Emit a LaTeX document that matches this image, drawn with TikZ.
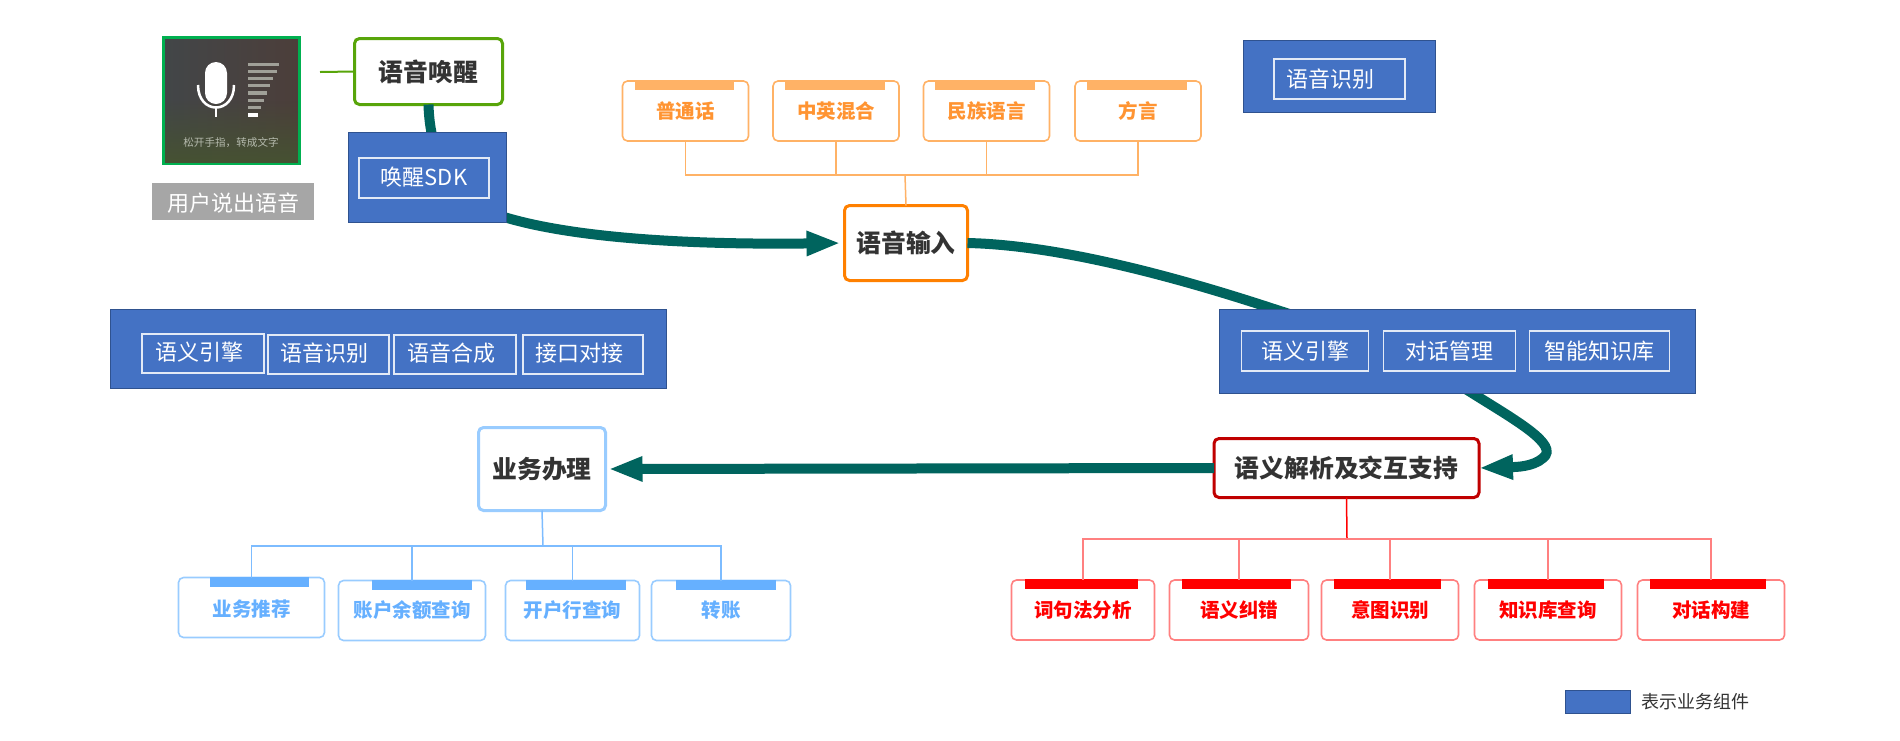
\documentclass[tikz,border=0pt]{standalone}
\usepackage{fontspec}
\setmainfont{Noto Sans CJK SC}
\usetikzlibrary{calc,arrows.meta,fadings}
\definecolor{FlowTeal}{RGB}{0,100,94}
\definecolor{CompBlue}{RGB}{68,114,196}
\definecolor{CompEdge}{RGB}{47,82,143}
\definecolor{WakeGreen}{RGB}{88,165,10}
\definecolor{MicGreen}{RGB}{0,176,80}
\definecolor{MicLeft}{RGB}{66,70,72}
\definecolor{MicRight}{RGB}{76,62,58}
\definecolor{MicBottom}{RGB}{70,82,50}
\definecolor{MicBar}{RGB}{160,160,152}
\definecolor{InputOrange}{RGB}{255,128,0}
\definecolor{LeafOrange}{RGB}{255,178,102}
\definecolor{TextOrange}{RGB}{255,148,50}
\definecolor{ServiceBlue}{RGB}{153,204,255}
\definecolor{LeafBlue}{RGB}{102,176,255}
\definecolor{DarkRed}{RGB}{192,0,0}
\definecolor{LeafRed}{RGB}{255,128,128}
\newcommand{\shifted}[2]{\raisebox{#1}[\height][\depth]{#2}}

\begin{document}
\begin{tikzpicture}[x=1pt,y=-1pt]
				\tikzstyle{main} = [rectangle, rounded corners=5pt, inner sep=0pt, outer sep=0pt, line width=3pt, fill=white, text=black!80, font=\fontsize{24.8}{28}\selectfont\bfseries]
				\tikzstyle{leaf} = [rectangle, rounded corners=5pt, inner sep=0pt, outer sep=0pt, line width=1.6pt, fill=white, minimum height=60pt, font=\fontsize{19.5}{24}\selectfont\bfseries]
				\tikzstyle{bar} = [rectangle, inner sep=0pt, outer sep=0pt, minimum height=10pt]
				\tikzstyle{component} = [rectangle, inner sep=0pt, outer sep=0pt, draw=CompEdge, fill=CompBlue]
				\tikzstyle{module} = [rectangle, inner sep=0pt, outer sep=0pt, draw=white!85!CompBlue, line width=1.3pt, minimum height=39pt, text=white, font=\fontsize{22}{26}\selectfont]
				\tikzstyle{arrow} = [line width=10pt, draw=FlowTeal, -{Triangle[length=34pt,width=23pt]}]
				\tikzstyle{orangeline} = [line width=1.5pt, draw=LeafOrange]
				\tikzstyle{blueline} = [line width=1.5pt, draw=LeafBlue!85!white]
				\tikzstyle{redline} = [line width=1.5pt, draw=LeafRed]

				\useasboundingbox [fill=white] (0,0) rectangle (1900,740);

				\node (mic) [rectangle, inner sep=0pt, outer sep=0pt, draw=MicGreen, line width=3pt, left color=MicLeft, right color=MicRight, minimum width=136pt, minimum height=126pt] at (231.5,100.5) {};
				\fill [MicBottom, path fading=north] (165,100) rectangle (298,163);
				\fill [white] (205,73) arc (-180:0:11) -- (227,93) arc (0:180:11) -- cycle;
				\draw [white, line width=2.5pt] (198,85) .. controls (198,115) and (234,115) .. (234,85);
				\draw [white, line width=2.5pt] (216,107) -- (216,117);
				\foreach \barend [count=\row] in {279,277,273,270,267,264,261} {
					\fill [MicBar] (248,{62.5+(\row-1)*7.2}) rectangle (\barend,{65.8+(\row-1)*7.2});
				}
				\fill [white] (248,113) rectangle (258,117);
				\node (miccaption) [inner sep=0pt, text=white!60!MicBottom, font=\fontsize{10.6}{12}\selectfont] at (231,143) {松开手指，转成文字};
				\node (speak) [rectangle, inner sep=0pt, outer sep=0pt, fill=black!35, text=white, minimum width=162pt, minimum height=37pt, font=\fontsize{22}{26}\selectfont] at (233,201.5) {\shifted{-2pt}{用户说出语音}};

				\node (wake) [main, draw=WakeGreen, minimum width=148pt, minimum height=66pt] at (428.5,71.5) {语音唤醒};
				\node (input) [main, draw=InputOrange, minimum width=123pt, minimum height=75pt] at (906,243) {语音输入};
				\node (semantic) [main, draw=DarkRed, minimum width=265pt, minimum height=59pt] at (1346.5,468) {语义解析及交互支持};
				\node (service) [main, draw=ServiceBlue, minimum width=127pt, minimum height=83pt] at (542,469) {业务办理};

				\node (putonghua) [leaf, draw=LeafOrange, text=TextOrange, minimum width=126pt] at (685.5,111) {普通话};
				\node (mixed) [leaf, draw=LeafOrange, text=TextOrange, minimum width=126pt] at (836,111) {中英混合};
				\node (minority) [leaf, draw=LeafOrange, text=TextOrange, minimum width=126pt] at (986.5,111) {民族语言};
				\node (dialect) [leaf, draw=LeafOrange, text=TextOrange, minimum width=126pt] at (1138,111) {方言};
				\node (putonghuabar) [bar, fill=LeafOrange, minimum width=99pt] at (684.5,85) {};
				\node (mixedbar) [bar, fill=LeafOrange, minimum width=100pt] at (835,85) {};
				\node (minoritybar) [bar, fill=LeafOrange, minimum width=100pt] at (985,85) {};
				\node (dialectbar) [bar, fill=LeafOrange, minimum width=100pt] at (1137,85) {};

				\node (recommend) [leaf, draw=ServiceBlue, text=LeafBlue, minimum width=146pt] at (251.5,607.5) {\shifted{-2pt}{业务推荐}};
				\node (balance) [leaf, draw=ServiceBlue, text=LeafBlue, minimum width=147pt] at (412,610.5) {账户余额查询};
				\node (bank) [leaf, draw=ServiceBlue, text=LeafBlue, minimum width=134pt] at (572.5,610.5) {开户行查询};
				\node (transfer) [leaf, draw=ServiceBlue, text=LeafBlue, minimum width=139pt] at (721,610.5) {转账};
				\node (recommendbar) [bar, fill=LeafBlue, minimum width=99pt] at (259.5,582) {};
				\node (balancebar) [bar, fill=LeafBlue, minimum width=100pt] at (422,585) {};
				\node (bankbar) [bar, fill=LeafBlue, minimum width=100pt] at (576,585) {};
				\node (transferbar) [bar, fill=LeafBlue, minimum width=100pt] at (726,585) {};

				\node (syntax) [leaf, draw=LeafRed, text=red, minimum width=143pt] at (1083,610) {词句法分析};
				\node (correct) [leaf, draw=LeafRed, text=red, minimum width=139pt] at (1239,610) {语义纠错};
				\node (intent) [leaf, draw=LeafRed, text=red, minimum width=137pt] at (1390,610) {意图识别};
				\node (knowledge) [leaf, draw=LeafRed, text=red, minimum width=147pt] at (1548,610) {知识库查询};
				\node (dialog) [leaf, draw=LeafRed, text=red, minimum width=147pt] at (1711,610) {对话构建};
				\node (syntaxbar) [bar, fill=red, minimum width=113pt] at (1081,584) {};
				\node (correctbar) [bar, fill=red, minimum width=109pt] at (1236.5,584) {};
				\node (intentbar) [bar, fill=red, minimum width=107pt] at (1387.5,584) {};
				\node (knowledgebar) [bar, fill=red, minimum width=116pt] at (1546,584) {};
				\node (dialogbar) [bar, fill=red, minimum width=116pt] at (1708,584) {};

				\coordinate (micend) at (320,72);
				\coordinate (orangebus) at (905,175);
				\coordinate (bluebus) at (543,546);
				\coordinate (redbus) at (1347,539);

				\draw [line width=2pt, draw=WakeGreen] (micend) -- (wake.west);
				\draw [orangeline] (input.north) -- (orangebus);
				\foreach \leafname in {putonghua,mixed,minority,dialect} {
					\draw [orangeline] (orangebus) -| (\leafname.south);
				}
				\draw [blueline] (service.south) -- (bluebus);
				\foreach \leafname in {recommend,balance,bank,transfer} {
					\draw [blueline] (bluebus) -| (\leafname.north);
				}
				\draw [redline, draw=red] (semantic.south) -- (redbus);
				\foreach \leafname in {syntax,correct,intent,knowledge,dialog} {
					\draw [redline] (redbus) -| (\leafname.north);
				}

				\draw [arrow, shorten >=4pt] (wake.south) .. controls (430,165) and (460,205) .. (504,217) .. controls (570,237) and (680,245) .. (input.west);
				\draw [arrow] (input.east) .. controls (1060,245) and (1180,278) .. (1277,310) .. controls (1340,330) and (1420,360) .. (1472,393) .. controls (1515,420) and (1560,445) .. (1543,458) .. controls (1533,467) and (1515,467) .. (semantic.east);
				\draw [arrow, shorten >=3pt] (semantic.west) -- (service.east);

				\node (wakebox) [component, minimum width=158pt, minimum height=90pt] at (427,177) {};
				\node (wakesdk) [module, minimum width=130pt, minimum height=40pt] at (424,178) {\shifted{1pt}{唤醒SDK}};
				\node (asrbox) [component, minimum width=192pt, minimum height=72pt] at (1339,76) {};
				\node (asr) [module, minimum width=131pt, minimum height=40pt] at (1339.5,79) {语音识别\kern19pt};
				\node (dialogbox) [component, minimum width=476pt, minimum height=84pt] at (1457.5,351) {};
				\node (engine) [module, minimum width=127pt, minimum height=40pt] at (1305,351) {语义引擎};
				\node (manage) [module, minimum width=132pt, minimum height=40pt] at (1449.5,351) {对话管理};
				\node (kb) [module, minimum width=140pt, minimum height=40pt] at (1599.5,351) {智能知识库};
				\node (servicebox) [component, minimum width=556pt, minimum height=79pt] at (388,348.5) {};
				\node (engineleft) [module, minimum width=122pt] at (203,353.5) {\shifted{1.5pt}{语义引擎}\kern8pt};
				\node (asrleft) [module, minimum width=121pt] at (328.5,354.5) {\shifted{1.5pt}{语音识别}\kern8pt};
				\node (tts) [module, minimum width=122pt] at (455,354.5) {\shifted{1.5pt}{语音合成}\kern8pt};
				\node (port) [module, minimum width=120pt] at (583,354.5) {\shifted{1.5pt}{接口对接}\kern8pt};

				\node (legend) [component, minimum width=65pt, minimum height=23pt] at (1597.5,701.5) {};
				\node (legendtext) [inner sep=0pt, text=black!80, font=\fontsize{18}{22}\selectfont, anchor=west] at (1641,702) {表示业务组件};
			\end{tikzpicture}
\end{document}
